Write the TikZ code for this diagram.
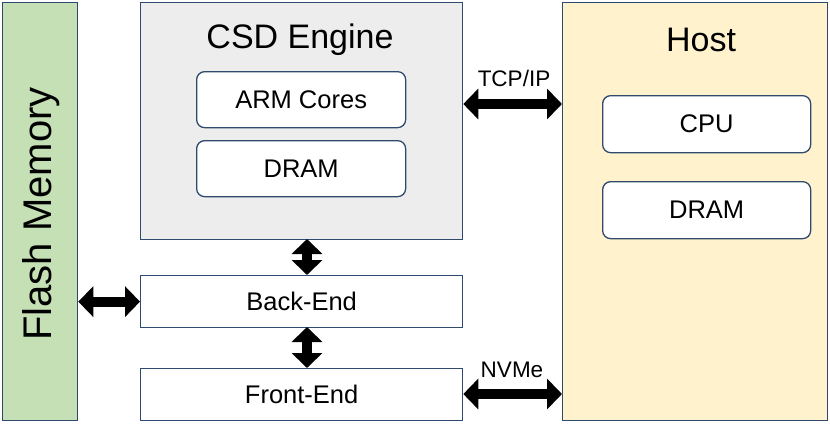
\documentclass[tikz,border=0pt]{standalone}
\usepackage{fontspec}
\setmainfont{Liberation Sans}
\usetikzlibrary{arrows.meta}
\definecolor{bordc}{HTML}{2F4A6E}
\definecolor{flashc}{HTML}{C5E0B4}
\definecolor{csdc}{HTML}{EDEDED}
\definecolor{hostc}{HTML}{FFF2CC}
\tikzset{
  box/.style={draw=bordc, line width=1.3pt, inner sep=0pt, anchor=north west},
  ibox/.style={box, fill=white, rounded corners=8pt},
  sbox/.style={box, fill=white},
  title/.style={font=\fontsize{34}{40}\selectfont},
  intext/.style={font=\fontsize{25.5}{30}\selectfont},
  small/.style={font=\fontsize{22.5}{27}\selectfont},
  barrow/.style={line width=10pt, {Triangle[width=30pt,length=15pt]}-{Triangle[width=30pt,length=15pt]}}
}
\begin{document}
\begin{tikzpicture}[x=1pt,y=-1pt]
\useasboundingbox (0,0) rectangle (830,426);
% containers
\node[box, fill=flashc, minimum width=75pt, minimum height=418pt] (flash) at (2,2) {};
\node[rotate=90, font=\fontsize{40}{46}\selectfont] (flasht) at (41,214) {Flash Memory};
\node[box, fill=csdc, minimum width=322pt, minimum height=237pt] (csd) at (140,2) {};
\node[title] (csdt) at (300,40) {CSD Engine};
\node[ibox, minimum width=209pt, minimum height=56pt] (arm) at (196,71) {};
\node[intext] at (arm.center) {ARM Cores};
\node[ibox, minimum width=209pt, minimum height=56pt] (dram1) at (196,140) {};
\node[intext] at (dram1.center) {DRAM};
\node[sbox, minimum width=322pt, minimum height=52pt] (be) at (140,275) {};
\node[intext] at (be.center) {Back-End};
\node[sbox, minimum width=322pt, minimum height=52pt] (fe) at (140,368) {};
\node[intext] at (fe.center) {Front-End};
\node[box, fill=hostc, minimum width=265pt, minimum height=418pt] (host) at (562,2) {};
\node[title] (hostt) at (701,40) {Host};
\node[ibox, minimum width=208pt, minimum height=57pt] (cpu) at (602,95) {};
\node[intext] at (cpu.center) {CPU};
\node[ibox, minimum width=208pt, minimum height=57pt] (dram2) at (602,181) {};
\node[intext] at (dram2.center) {DRAM};
% arrows
\coordinate (tcpA) at (csd.east |- 0,104);
\coordinate (tcpB) at (host.west |- 0,104);
\draw[barrow] (tcpA) -- (tcpB);
\node[small] at (514,78) {TCP/IP};
\coordinate (nvA) at (fe.east |- 0,394);
\coordinate (nvB) at (host.west |- 0,394);
\draw[barrow] (nvA) -- (nvB);
\node[small] at (512,370) {NVMe};
\coordinate (flA) at (flash.east |- be.west);
\draw[barrow] (flA) -- (be.west);
\coordinate (v1) at (307,239);
\coordinate (v2) at (307,275);
\draw[barrow] (v1) -- (v2);
\coordinate (v3) at (307,327);
\coordinate (v4) at (307,368);
\draw[barrow] (v3) -- (v4);
\end{tikzpicture}
\end{document}
